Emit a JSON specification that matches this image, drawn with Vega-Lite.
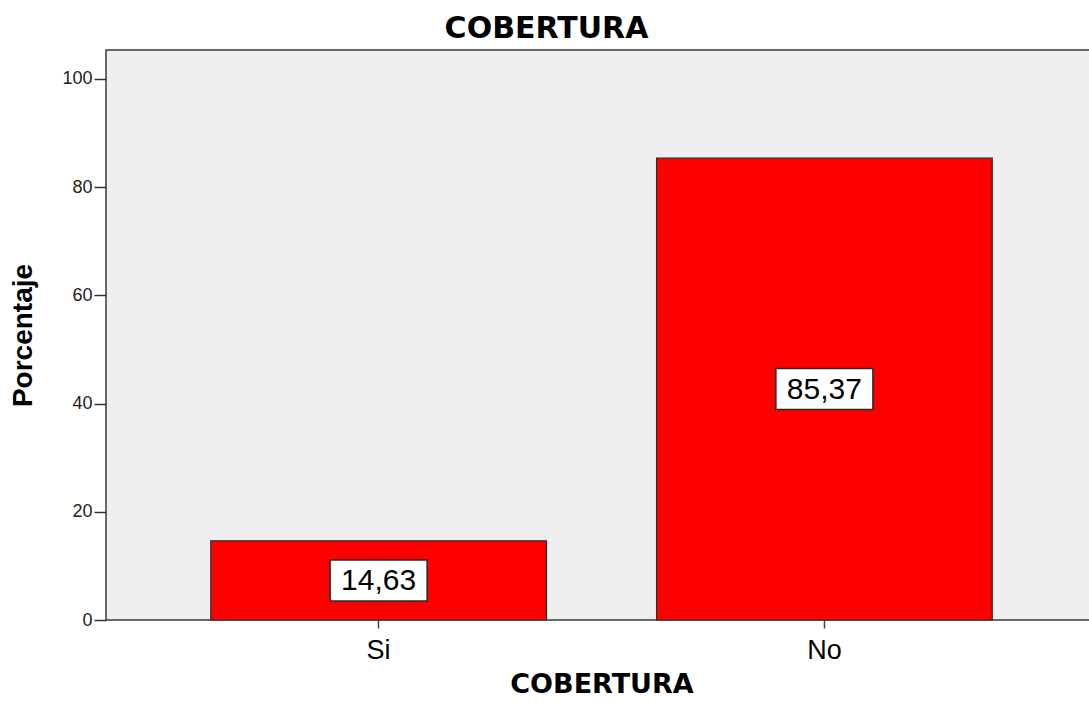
{
  "$schema": "https://vega.github.io/schema/vega-lite/v6.json",
  "autosize": {"type": "none"},
  "padding": {"left": 106, "top": 50, "right": 0, "bottom": 83},
  "width": 991,
  "height": 570,
  "background": "white",
  "config": {
    "view": {"fill": "#EFEFEF", "stroke": "#3a3a3a", "strokeWidth": 1.5},
    "font": "Liberation Sans"
  },
  "title": {
    "text": "COBERTURA",
    "font": "DejaVu Sans",
    "fontSize": 30,
    "fontWeight": "bold",
    "color": "black",
    "anchor": "middle",
    "dx": -55,
    "offset": 6
  },
  "data": {
    "values": [
      {"COBERTURA": "Si", "Porcentaje": 14.63, "etiqueta": "14,63"},
      {"COBERTURA": "No", "Porcentaje": 85.37, "etiqueta": "85,37"}
    ]
  },
  "encoding": {
    "x": {
      "field": "COBERTURA",
      "type": "nominal",
      "sort": ["Si", "No"],
      "scale": {"paddingInner": 0.247, "paddingOuter": 0.235},
      "axis": {
        "title": "COBERTURA",
        "titleFont": "DejaVu Sans",
        "titleFontSize": 27,
        "titleFontWeight": "bold",
        "titleColor": "black",
        "titlePadding": 8,
        "labelAngle": 0,
        "labelFont": "Liberation Sans",
        "labelFontSize": 27,
        "labelColor": "black",
        "labelPadding": 9,
        "tickSize": 8,
        "tickColor": "#444",
        "tickWidth": 1.5,
        "domain": false,
        "grid": false
      }
    }
  },
  "layer": [
    {
      "mark": {"type": "bar", "fill": "#FF0000", "stroke": "#2a2a2a", "strokeWidth": 1.2},
      "encoding": {
        "y": {
          "field": "Porcentaje",
          "type": "quantitative",
          "scale": {"domain": [0, 105.36], "nice": false},
          "axis": {
            "title": "Porcentaje",
            "titleFont": "Liberation Sans",
            "titleFontSize": 28,
            "titleFontWeight": "bold",
            "titleColor": "black",
            "titlePadding": 24,
            "values": [0, 20, 40, 60, 80, 100],
            "labelFont": "Liberation Sans",
            "labelFontSize": 18,
            "labelColor": "#222",
            "labelPadding": 2,
            "tickSize": 12,
            "tickColor": "#333",
            "tickWidth": 1.5,
            "domain": false,
            "grid": false
          }
        }
      }
    },
    {
      "mark": {
        "type": "point",
        "shape": "M-1,-0.4227H1V0.4227H-1Z",
        "size": 9409,
        "filled": true,
        "fill": "white",
        "stroke": "#2a2a2a",
        "strokeWidth": 1.5,
        "opacity": 1
      },
      "encoding": {
        "y": {
          "field": "Porcentaje",
          "type": "quantitative",
          "scale": {"domain": [0, 210.72], "nice": false},
          "axis": null
        }
      }
    },
    {
      "mark": {
        "type": "text",
        "fontSize": 30,
        "font": "Liberation Sans",
        "color": "black",
        "baseline": "middle",
        "align": "center",
        "dy": 1
      },
      "encoding": {
        "y": {
          "field": "Porcentaje",
          "type": "quantitative",
          "scale": {"domain": [0, 210.72], "nice": false},
          "axis": null
        },
        "text": {"field": "etiqueta"}
      }
    }
  ],
  "resolve": {"scale": {"y": "independent"}}
}
